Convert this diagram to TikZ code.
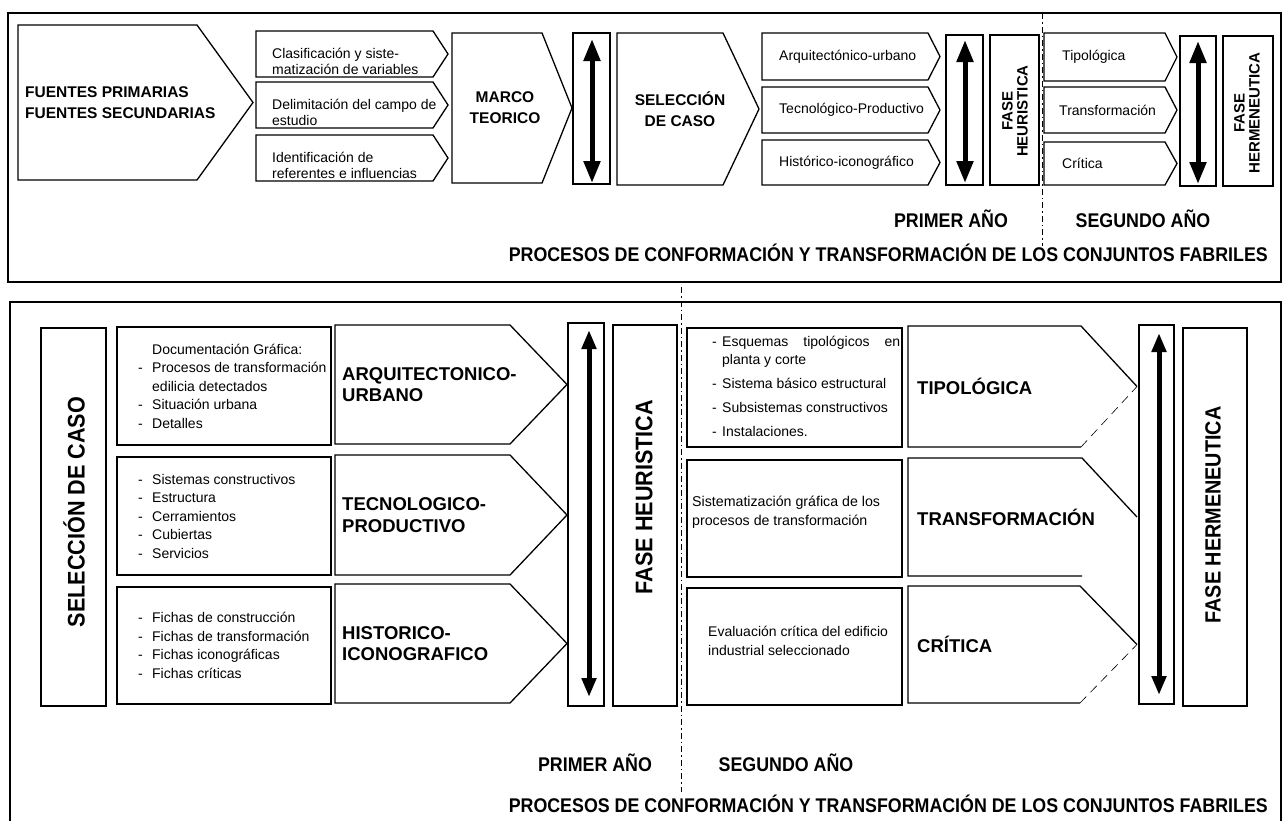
\documentclass[tikz,border=0pt]{standalone}
\usepackage{fontspec}
\setmainfont{Liberation Sans}
\newfontfamily\condf[FakeStretch=0.9]{Liberation Sans}
\usetikzlibrary{arrows.meta}
\newcommand\itm{\makebox[14pt][l]{-}}
\newcommand\itmb{\makebox[10pt][l]{-}}
\tikzset{
  bx/.style={draw, line width=1.3pt},
  panel/.style={draw, line width=1.5pt},
  rectn/.style={bx, anchor=north west, inner sep=0pt, outer sep=0pt},
  dbltop/.style={line width=5pt, {Triangle[width=16pt,length=22pt]}-{Triangle[width=16pt,length=22pt]}},
  dblbot/.style={line width=5pt, {Triangle[width=14pt,length=19pt]}-{Triangle[width=14pt,length=19pt]}},
  smt/.style={font=\fontsize{14}{16}\selectfont, align=left, anchor=west, inner sep=0pt},
  smb/.style={font=\fontsize{14}{18.5}\selectfont, align=left, anchor=west, inner sep=0pt},
  bft/.style={font=\bfseries\fontsize{15.5}{21}\selectfont, align=center, inner sep=0pt},
  bfl/.style={font=\bfseries\fontsize{18.5}{21.5}\selectfont, align=left, anchor=west, inner sep=0pt},
  rott/.style={rotate=90, align=center, inner sep=0pt, font=\bfseries\fontsize{15}{15}\selectfont},
  rotb/.style={rotate=90, inner sep=0pt},
  yearlbl/.style={font=\condf\bfseries\fontsize{19.8}{22}\selectfont, inner sep=0pt},
  dashln/.style={line width=0.8pt, dash pattern=on 6pt off 3pt on 1.5pt off 3pt},
  faint/.style={line width=0.6pt, dash pattern=on 9pt off 6pt},
}
\newcommand\rbox[6][]{\node[rectn,#1,minimum width={#5-#3},minimum height={#6-#4}] (#2) at (#3,#4) {};}
\newcommand\chevron[7][]{%
  \draw[bx,#1] (#3,#4) -- (#5,#4) -- (#6,{(#4+#7)/2}) -- (#5,#7) -- (#3,#7) -- cycle;
  \coordinate (#2) at (#3,{(#4+#7)/2});}
\newcommand\chevopen[7]{%
  \draw[bx] (#6,{(#4+#7)/2}) -- (#5,#4) -- (#3,#4) -- (#3,#7) -- (#5,#7);
  \draw[#1] (#5,#7) -- (#6,{(#4+#7)/2});
  \coordinate (#2) at (#3,{(#4+#7)/2});}
\begin{document}
\begin{tikzpicture}[x=1pt,y=-1pt]
\useasboundingbox (0,0) rectangle (1287,820);
% ================= TOP PANEL =================
\rbox[panel]{toppanel}{8}{13}{1281}{282}
\draw[dashln] (1042,13) -- (1042,246);
\chevron{fu}{18}{25}{197}{253}{180}
\node[bft, anchor=west, align=left] (fuT) at ([xshift=7pt]fu) {FUENTES PRIMARIAS\\FUENTES SECUNDARIAS};
\chevron{c1}{256}{31}{433}{448}{77}
\chevron{c2}{256}{82}{433}{448}{128}
\chevron{c3}{256}{135}{433}{448}{181}
\node[smt] (c1T) at ([xshift=16pt,yshift=-7pt]c1) {Clasificación y siste-\\matización de variables};
\node[smt] (c2T) at ([xshift=16pt,yshift=-7pt]c2) {Delimitación del campo de\\estudio};
\node[smt] (c3T) at ([xshift=16pt,yshift=-7pt]c3) {Identificación de\\referentes e influencias};
\chevron{mt}{452}{33}{542}{572}{183}
\node[bft] (mtT) at (505,108) {MARCO\\TEORICO};
\rbox{ab1}{573}{33}{610}{184}
\coordinate (a1t) at (592,39); \coordinate (a1b) at (592,183);
\draw[dbltop] (a1t) -- (a1b);
\chevron{sc}{617}{33}{723}{759}{185}
\node[bft] (scT) at (680,109) {SELECCIÓN\\DE CASO};
\chevron{r1}{762}{33}{928}{940}{80}
\chevron{r2}{762}{87}{928}{940}{133}
\chevron{r3}{762}{140}{928}{940}{185}
\node[smt] (r1T) at ([xshift=17pt]r1) {Arquitectónico-urbano};
\node[smt] (r2T) at ([xshift=17pt]r2) {Tecnológico-Productivo};
\node[smt] (r3T) at ([xshift=17pt]r3) {Histórico-iconográfico};
\rbox{ab2}{946}{35}{983}{185}
\coordinate (a2t) at (965,40); \coordinate (a2b) at (965,183);
\draw[dbltop] (a2t) -- (a2b);
\rbox{fh}{990}{35}{1039}{185}
\node[rott] (fhT) at (1015,111) {FASE\\HEURISTICA};
\chevron{t1}{1044}{33}{1165}{1177}{81}
\chevron{t2}{1044}{87}{1165}{1177}{133}
\chevron{t3}{1044}{142}{1165}{1177}{185}
\node[smt] (t1T) at ([xshift=18pt]t1) {Tipológica};
\node[smt] (t2T) at ([xshift=15pt]t2) {Transformación};
\node[smt] (t3T) at ([xshift=18pt]t3) {Crítica};
\rbox{ab3}{1180}{36}{1216}{186}
\coordinate (a3t) at (1198,41); \coordinate (a3b) at (1198,184);
\draw[dbltop] (a3t) -- (a3b);
\rbox{fhe}{1223}{36}{1273}{186}
\node[rott] (fheT) at (1247,113) {FASE\\HERMENEUTICA};
\node[yearlbl] (y1) at (951,219) {PRIMER AÑO};
\node[yearlbl] (y2) at (1143,219) {SEGUNDO AÑO};
\node[yearlbl, anchor=east] (proc1) at (1268,253) {PROCESOS DE CONFORMACIÓN Y TRANSFORMACIÓN DE LOS CONJUNTOS FABRILES};
% ================= BOTTOM PANEL =================
\draw[panel] (10,840) -- (10,302) -- (1281,302) -- (1281,840);
\draw[dashln] (681,287) -- (681,792);
\rbox{selc}{41}{328}{106}{706}
\node[rotb, font=\condf\bfseries\fontsize{24}{24}\selectfont] (selcT) at (74,512) {SELECCIÓN DE CASO};
\rbox{d1}{117}{327}{331}{445}
\rbox{d2}{117}{457}{331}{575}
\rbox{d3}{117}{587}{331}{704}
\node[smb] (d1T) at ([xshift=21pt]d1.west) {\hspace*{14pt}Documentación Gráfica:\\\itm Procesos de transformación\\\hspace*{14pt}edilicia detectados\\\itm Situación urbana\\\itm Detalles};
\node[smb] (d2T) at ([xshift=21pt]d2.west) {\itm Sistemas constructivos\\\itm Estructura\\\itm Cerramientos\\\itm Cubiertas\\\itm Servicios};
\node[smb] (d3T) at ([xshift=21pt]d3.west) {\itm Fichas de construcción\\\itm Fichas de transformación\\\itm Fichas iconográficas\\\itm Fichas críticas};
\chevron{h1}{335}{325}{510}{567}{444}
\chevron{h2}{335}{455}{510}{567}{575}
\chevron{h3}{335}{584}{510}{567}{703}
\node[bfl] (h1T) at ([xshift=7pt]h1) {ARQUITECTONICO-\\URBANO};
\node[bfl] (h2T) at ([xshift=7pt]h2) {TECNOLOGICO-\\PRODUCTIVO};
\node[bfl] (h3T) at ([xshift=7pt]h3) {HISTORICO-\\ICONOGRAFICO};
\rbox{bb1}{568}{323}{604}{706}
\coordinate (b1t) at (589,330); \coordinate (b1b) at (589,697);
\draw[dblbot] (b1t) -- (b1b);
\rbox{fhb}{613}{325}{677}{706}
\node[rotb, font=\condf\bfseries\fontsize{24}{24}\selectfont] (fhbT) at (644,497) {FASE HEURISTICA};
\rbox{e1}{687}{328}{902}{447}
\rbox{e2}{687}{460}{902}{577}
\rbox{e3}{687}{588}{902}{705}
\node[smb, font=\fontsize{14}{18}\selectfont] (e1T) at (712,386) {\itmb\hbox to 178pt{Esquemas\hfill tipológicos\hfill en}\\\hspace*{10pt}planta y corte\\[6pt]\itmb Sistema básico estructural\\[6pt]\itmb Subsistemas constructivos\\[6pt]\itmb Instalaciones.};
\node[smb, font=\fontsize{14.2}{19}\selectfont] (e2T) at (692,512) {Sistematización gráfica de los\\procesos de transformación};
\node[smb, font=\fontsize{14}{18.5}\selectfont] (e3T) at (708,641) {Evaluación crítica del edificio\\industrial seleccionado};
\chevopen{faint}{k1}{908}{326}{1081}{1137}{447}
\chevopen{draw=none}{k2}{908}{458}{1082}{1137}{576}
\chevopen{faint}{k3}{908}{586}{1080}{1137}{703}
\node[bfl] (k1T) at ([xshift=9pt]k1) {TIPOLÓGICA};
\node[bfl] (k2T) at ([xshift=9pt]k2) {TRANSFORMACIÓN};
\node[bfl] (k3T) at ([xshift=9pt]k3) {CRÍTICA};
\rbox{bb2}{1139}{325}{1174}{704}
\coordinate (b2t) at (1159,333); \coordinate (b2b) at (1159,695);
\draw[dblbot] (b2t) -- (b2b);
\rbox{fheb}{1183}{328}{1247}{706}
\node[rotb, font=\condf\bfseries\fontsize{22}{22}\selectfont] (fhebT) at (1213,515) {FASE HERMENEUTICA};
\node[yearlbl] (y3) at (595,763) {PRIMER AÑO};
\node[yearlbl] (y4) at (786,763) {SEGUNDO AÑO};
\node[yearlbl, anchor=east] (proc2) at (1268,804) {PROCESOS DE CONFORMACIÓN Y TRANSFORMACIÓN DE LOS CONJUNTOS FABRILES};
\end{tikzpicture}
\end{document}
